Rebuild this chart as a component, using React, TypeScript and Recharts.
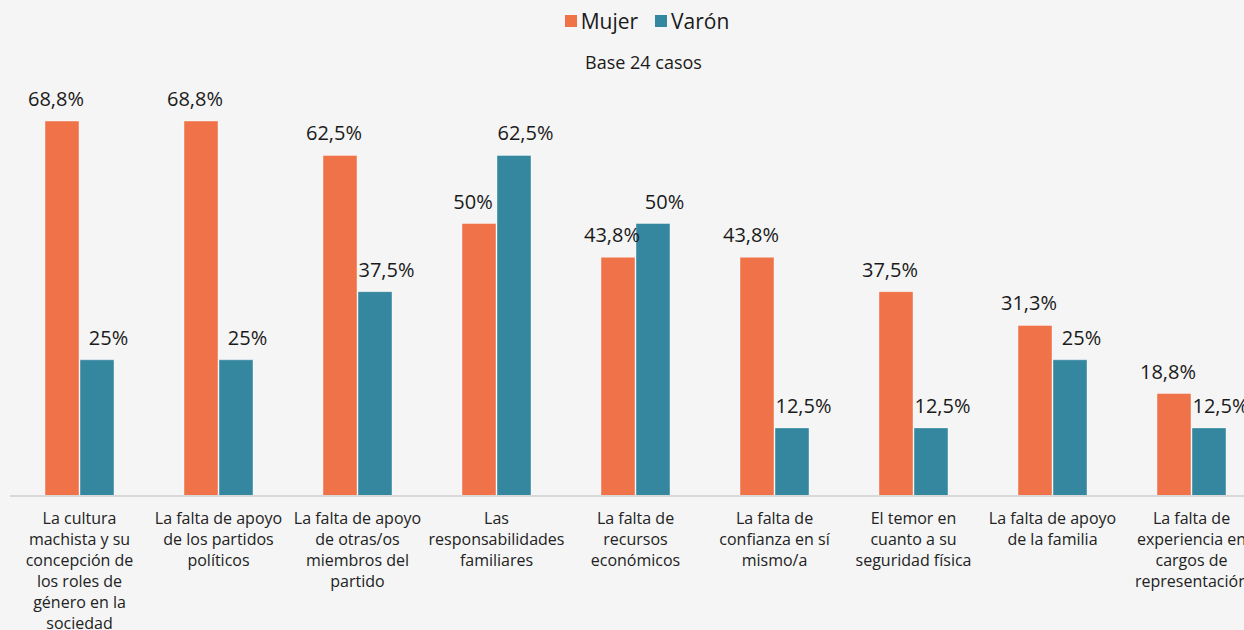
import { BarChart, Bar, XAxis, YAxis, LabelList } from "recharts";

const categories = [
  "La cultura\nmachista y su\nconcepción de\nlos roles de\ngénero en la\nsociedad",
  "La falta de apoyo\nde los partidos\npolíticos",
  "La falta de apoyo\nde otras/os\nmiembros del\npartido",
  "Las\nresponsabilidades\nfamiliares",
  "La falta de\nrecursos\neconómicos",
  "La falta de\nconfianza en sí\nmismo/a",
  "El temor en\ncuanto a su\nseguridad física",
  "La falta de apoyo\nde la familia",
  "La falta de\nexperiencia en\ncargos de\nrepresentación",
];
const mujer = [68.8, 68.8, 62.5, 50, 43.8, 43.8, 37.5, 31.3, 18.8];
const varon = [25, 25, 37.5, 62.5, 50, 12.5, 12.5, 25, 12.5];

const data = categories.map((c, i) => ({ name: c, mujer: mujer[i], varon: varon[i] }));

const FONT = "'Open Sans', sans-serif";
const ORANGE = "#EF7249";
const TEAL = "#34879F";

const fmt = (v: number) => `${String(v).replace(".", ",")}%`;

function CategoryTick({ x, y, payload }: any) {
  const lines = String(payload.value).split("\n");
  return (
    <text x={x} y={y + 28} textAnchor="middle" fill="#222" fontSize={16} fontFamily={FONT}>
      {lines.map((l, i) => (
        <tspan key={i} x={x} dy={i === 0 ? 0 : 21}>
          {l}
        </tspan>
      ))}
    </text>
  );
}

function makeLabel(shift: number) {
  return (props: any) => {
    const { x, y, width, value } = props;
    return (
      <text
        x={x + width / 2 + shift}
        y={y - 15}
        textAnchor="middle"
        fill="#1a1a1a"
        fontSize={20}
        fontFamily={FONT}
      >
        {fmt(value)}
      </text>
    );
  };
}

export default function App() {
  return (
    <div
      style={{
        position: "fixed",
        left: 0,
        top: 0,
        width: 1244,
        height: 630,
        overflow: "hidden",
        background: "#f5f5f5",
        fontFamily: FONT,
      }}
    >
      <div
        style={{
          position: "absolute",
          top: 7,
          left: 0,
          width: 1244,
          display: "flex",
          justifyContent: "center",
          alignItems: "center",
          fontSize: 21,
          color: "#1a1a1a",
          paddingLeft: 50,
          boxSizing: "border-box",
        }}
      >
        <span style={{ width: 12, height: 12, background: ORANGE, marginRight: 4 }} />
        <span style={{ marginRight: 17 }}>Mujer</span>
        <span style={{ width: 12, height: 12, background: TEAL, marginRight: 4 }} />
        <span>Varón</span>
      </div>
      <div
        style={{
          position: "absolute",
          top: 50,
          left: 0,
          width: 1244,
          textAlign: "center",
          fontSize: 18,
          color: "#1a1a1a",
          paddingLeft: 43,
          boxSizing: "border-box",
        }}
      >
        Base 24 casos
      </div>
      <div style={{ position: "absolute", left: 0, top: 0 }}>
        <BarChart
          width={1261}
          height={630}
          data={data}
          margin={{ top: 60, right: 0, left: 10, bottom: 0 }}
          barSize={34}
          barGap={1}
        >
          <XAxis
            dataKey="name"
            height={134}
            tickLine={false}
            tickSize={0}
            tickMargin={0}
            axisLine={{ stroke: "#d9d9d9", strokeWidth: 2 }}
            tick={<CategoryTick />}
            interval={0}
          />
          <YAxis hide domain={[0, 80]} />
          <Bar dataKey="mujer" fill={ORANGE} stroke="#ffffff" strokeOpacity={0.4} isAnimationActive={false}>
            <LabelList dataKey="mujer" content={makeLabel(-6)} />
          </Bar>
          <Bar dataKey="varon" fill={TEAL} stroke="#ffffff" strokeOpacity={0.4} isAnimationActive={false}>
            <LabelList dataKey="varon" content={makeLabel(11.5)} />
          </Bar>
        </BarChart>
      </div>
    </div>
  );
}
